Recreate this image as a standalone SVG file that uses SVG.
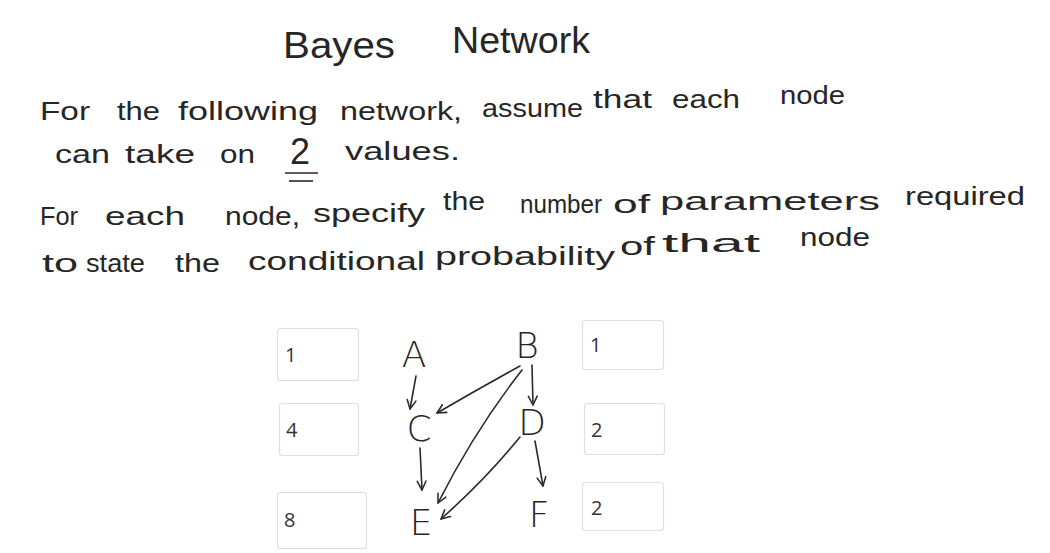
<svg xmlns="http://www.w3.org/2000/svg" width="1050" height="553" viewBox="0 0 1050 553">
<style>
.hw{font-family:"Liberation Sans","DejaVu Sans",sans-serif;fill:#262626;}
.t1{font-size:36px;}
.t2{font-size:25px;}
.nd{font-family:"DejaVu Sans","Liberation Sans",sans-serif;font-weight:200;font-size:36px;fill:#262626;text-anchor:middle;}
.box{fill:#ffffff;stroke:#dcdfe3;stroke-width:1.2;}
.val{font-family:"Open Sans","Liberation Sans",sans-serif;fill:#333333;}
.edge{fill:none;stroke:#2a2a2a;stroke-width:1.6;stroke-linecap:round;}
</style>
<defs>
<marker id="ah" viewBox="0 0 10 10" refX="9" refY="5" markerWidth="11" markerHeight="11" markerUnits="userSpaceOnUse" orient="auto">
<path d="M1,1 L9,5 L1,9" fill="none" stroke="#2a2a2a" stroke-width="1.4" stroke-linecap="round" stroke-linejoin="round"/>
</marker>
</defs>
<rect width="1050" height="553" fill="#ffffff"/>
<g id="text">
<text class="hw t1" x="283" y="58" textLength="112" lengthAdjust="spacingAndGlyphs">Bayes</text>
<text class="hw t1" x="452" y="53" textLength="138" lengthAdjust="spacingAndGlyphs">Network</text>
<text class="hw t2" x="40" y="120" textLength="50" lengthAdjust="spacingAndGlyphs">For</text>
<text class="hw t2" x="117" y="120" textLength="43" lengthAdjust="spacingAndGlyphs">the</text>
<text class="hw t2" x="178" y="120" textLength="140" lengthAdjust="spacingAndGlyphs">following</text>
<text class="hw t2" x="340" y="120" textLength="122" lengthAdjust="spacingAndGlyphs">network,</text>
<text class="hw t2" x="482" y="117" textLength="101" lengthAdjust="spacingAndGlyphs">assume</text>
<text class="hw t2" x="593" y="108" textLength="59" lengthAdjust="spacingAndGlyphs">that</text>
<text class="hw t2" x="672" y="108" textLength="68" lengthAdjust="spacingAndGlyphs">each</text>
<text class="hw t2" x="780" y="104" textLength="65" lengthAdjust="spacingAndGlyphs">node</text>
<text class="hw t2" x="55" y="163" textLength="55" lengthAdjust="spacingAndGlyphs">can</text>
<text class="hw t2" x="125" y="163" textLength="70" lengthAdjust="spacingAndGlyphs">take</text>
<text class="hw t2" x="220" y="163" textLength="35" lengthAdjust="spacingAndGlyphs">on</text>
<text class="hw t1" x="290" y="164">2</text>
<text class="hw t2" x="345" y="160" textLength="115" lengthAdjust="spacingAndGlyphs">values.</text>
<line x1="285" y1="173" x2="318" y2="173" stroke="#2a2a2a" stroke-width="1.6"/>
<line x1="289" y1="181" x2="313" y2="181" stroke="#2a2a2a" stroke-width="1.6"/>
<text class="hw t2" x="40" y="225" textLength="38" lengthAdjust="spacingAndGlyphs">For</text>
<text class="hw t2" x="105" y="225" textLength="80" lengthAdjust="spacingAndGlyphs">each</text>
<text class="hw t2" x="225" y="225" textLength="75" lengthAdjust="spacingAndGlyphs">node,</text>
<text class="hw t2" x="313" y="222" textLength="112" lengthAdjust="spacingAndGlyphs">specify</text>
<text class="hw t2" x="443" y="210" textLength="42" lengthAdjust="spacingAndGlyphs">the</text>
<text class="hw t2" x="520" y="213" textLength="82" lengthAdjust="spacingAndGlyphs">number</text>
<text class="hw t2" x="613" y="213" font-size="29" textLength="37" lengthAdjust="spacingAndGlyphs">of</text>
<text class="hw t2" x="660" y="210" font-size="30" textLength="220" lengthAdjust="spacingAndGlyphs">parameters</text>
<text class="hw t2" x="905" y="205" textLength="120" lengthAdjust="spacingAndGlyphs">required</text>
<text class="hw t2" x="42" y="272" font-size="29" textLength="36" lengthAdjust="spacingAndGlyphs">to</text>
<text class="hw t2" x="86" y="272" textLength="59" lengthAdjust="spacingAndGlyphs">state</text>
<text class="hw t2" x="175" y="272" textLength="45" lengthAdjust="spacingAndGlyphs">the</text>
<text class="hw t2" x="248" y="270" textLength="177" lengthAdjust="spacingAndGlyphs">conditional</text>
<text class="hw t2" x="435" y="265" font-size="27" textLength="180" lengthAdjust="spacingAndGlyphs">probability</text>
<text class="hw t2" x="620" y="255" font-size="29" textLength="35" lengthAdjust="spacingAndGlyphs">of</text>
<text class="hw t2" x="662" y="252" font-size="31" textLength="98" lengthAdjust="spacingAndGlyphs">that</text>
<text class="hw t2" x="800" y="246" textLength="70" lengthAdjust="spacingAndGlyphs">node</text>
</g>
<g id="edges">
<path class="edge" d="M416,376 L410,409" marker-end="url(#ah)"/>
<path class="edge" d="M520,366 Q480,388 437,413" marker-end="url(#ah)"/>
<path class="edge" d="M532,365 L533,405" marker-end="url(#ah)"/>
<path class="edge" d="M522,370 Q475,430 438,503" marker-end="url(#ah)"/>
<path class="edge" d="M520,437 Q485,480 441,519" marker-end="url(#ah)"/>
<path class="edge" d="M420,448 L422,490" marker-end="url(#ah)"/>
<path class="edge" d="M535,441 L543,486" marker-end="url(#ah)"/>
</g>
<g id="node-A"><text class="nd" x="414" y="367">A</text></g>
<g id="node-B"><text class="nd" x="527" y="358">B</text></g>
<g id="node-C"><text class="nd" x="419" y="441">C</text></g>
<g id="node-D"><text class="nd" x="532" y="435">D</text></g>
<g id="node-E"><text class="nd" x="421" y="535">E</text></g>
<g id="node-F"><text class="nd" x="539" y="527">F</text></g>
<g id="box-A"><rect class="box" x="277.5" y="328.5" width="81" height="52" rx="3"/><text class="val" font-size="20" x="285" y="362">1</text></g>
<g id="box-C"><rect class="box" x="279.5" y="403.5" width="79" height="52" rx="3"/><text class="val" font-size="20" x="286" y="437">4</text></g>
<g id="box-E"><rect class="box" x="277.5" y="492.5" width="89" height="56" rx="3"/><text class="val" font-size="20" x="284" y="527">8</text></g>
<g id="box-B"><rect class="box" x="582.5" y="320.5" width="81" height="49" rx="3"/><text class="val" font-size="20" x="590" y="352">1</text></g>
<g id="box-D"><rect class="box" x="584.5" y="403.5" width="80" height="51" rx="3"/><text class="val" font-size="20" x="591" y="437">2</text></g>
<g id="box-F"><rect class="box" x="582.5" y="482.5" width="81" height="48" rx="3"/><text class="val" font-size="20" x="591" y="515">2</text></g>
</svg>
